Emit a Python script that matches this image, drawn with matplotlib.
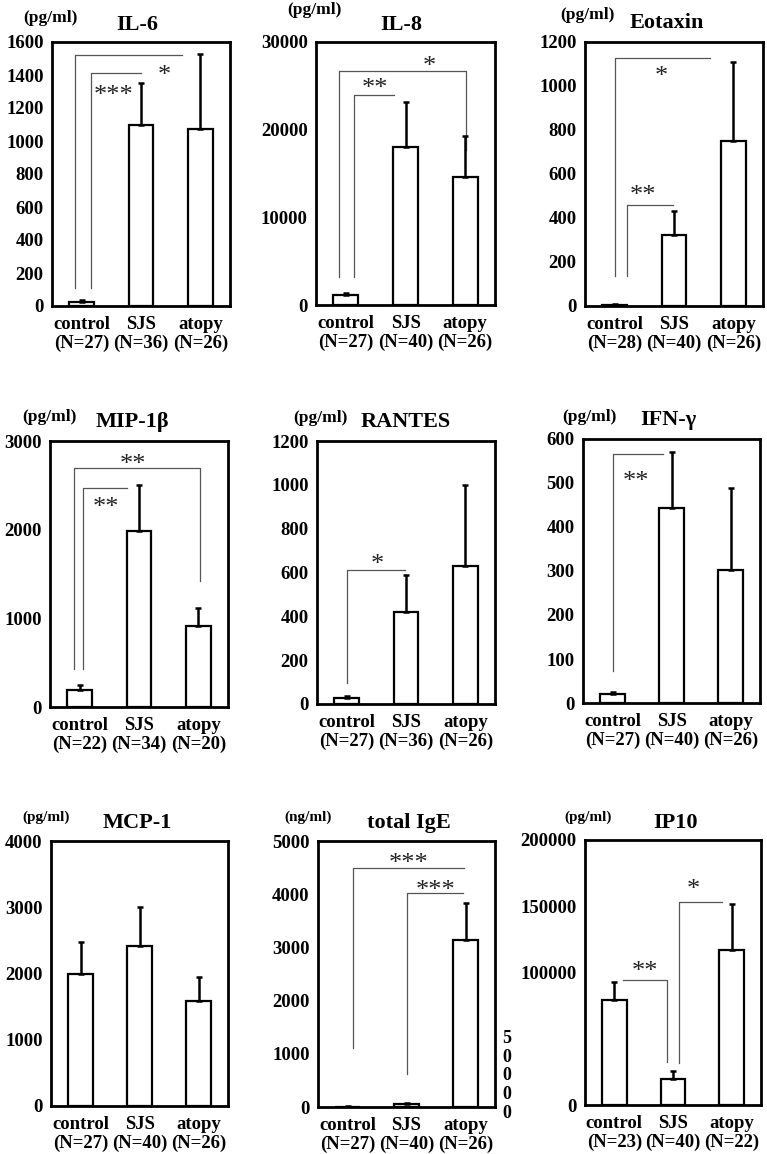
import matplotlib
matplotlib.use("Agg")
import matplotlib.pyplot as plt

# ---- data ----
groups = ["control", "SJS", "atopy"]

il6_mean = [25, 1100, 1075]
il6_sd = [10, 250, 455]
il6_n = [27, 36, 26]

il8_mean = [1100, 18000, 14600]
il8_sd = [250, 5200, 4700]
il8_n = [27, 40, 26]

eotaxin_mean = [5, 323, 750]
eotaxin_sd = [2, 110, 360]
eotaxin_n = [28, 40, 26]

mip1b_mean = [188, 1990, 910]
mip1b_sd = [60, 510, 210]
mip1b_n = [22, 34, 20]

rantes_mean = [28, 420, 630]
rantes_sd = [8, 170, 370]
rantes_n = [27, 36, 26]

ifng_mean = [20, 443, 303]
ifng_sd = [6, 127, 185]
ifng_n = [27, 40, 26]

mcp1_mean = [1990, 2410, 1580]
mcp1_sd = [490, 600, 360]
mcp1_n = [27, 40, 26]

ige_mean = [8, 55, 3130]
ige_sd = [3, 25, 700]
ige_n = [27, 40, 26]

ip10_mean = [79000, 20000, 117000]
ip10_sd = [14000, 6000, 35000]
ip10_n = [23, 40, 22]

# title, unit, means, sds, Ns, y ticks
panels = [
    ("IL-6", "(pg/ml)", il6_mean, il6_sd, il6_n, [0, 200, 400, 600, 800, 1000, 1200, 1400, 1600]),
    ("IL-8", "(pg/ml)", il8_mean, il8_sd, il8_n, [0, 10000, 20000, 30000]),
    ("Eotaxin", "(pg/ml)", eotaxin_mean, eotaxin_sd, eotaxin_n, [0, 200, 400, 600, 800, 1000, 1200]),
    ("MIP-1β", "(pg/ml)", mip1b_mean, mip1b_sd, mip1b_n, [0, 1000, 2000, 3000]),
    ("RANTES", "(pg/ml)", rantes_mean, rantes_sd, rantes_n, [0, 200, 400, 600, 800, 1000, 1200]),
    ("IFN-γ", "(pg/ml)", ifng_mean, ifng_sd, ifng_n, [0, 100, 200, 300, 400, 500, 600]),
    ("MCP-1", "(pg/ml)", mcp1_mean, mcp1_sd, mcp1_n, [0, 1000, 2000, 3000, 4000]),
    ("total IgE", "(ng/ml)", ige_mean, ige_sd, ige_n, [0, 1000, 2000, 3000, 4000, 5000]),
    ("IP10", "(pg/ml)", ip10_mean, ip10_sd, ip10_n, [0, 100000, 150000, 200000]),
]
ymax = [1600, 30000, 1200, 3000, 1200, 600, 4000, 5000, 200000]

# significance brackets: (x_left, y_left_bottom, x_right, y_right_bottom, y_top)
brackets = [
    [(-0.11, 110, 1.69, 1520, 1520), (0.15, 110, 1.0, 1410, 1410)],
    [(-0.11, 3230, 2.01, 17700, 26700), (0.13, 3230, 0.80, 23900, 23900)],
    [(0.0, 136, 1.61, 1127, 1127), (0.20, 136, 0.99, 458, 458)],
    [(-0.10, 432, 2.03, 1417, 2699), (0.06, 432, 0.79, 2474, 2474)],
    [(0.0, 94, 0.98, 611, 611)],
    [(0.0, 72, 0.85, 567, 567)],
    [],
    [(0.10, 1115, 1.97, 4499, 4499), (1.01, 627, 1.95, 4029, 4029)],
    [(0.15, 94340, 0.89, 32700, 94340), (1.10, 31400, 1.83, 153460, 153460)],
]
stars = [
    [(0.54, 1317, "***"), (1.40, 1438, "*")],
    [(0.48, 25400, "**"), (1.40, 28000, "*")],
    [(0.79, 1071, "*"), (0.48, 534, "**")],
    [(0.90, 2808, "**"), (0.45, 2320, "**")],
    [(0.52, 664, "*")],
    [(0.40, 519, "**")],
    [],
    [(1.04, 4700, "***"), (1.49, 4198, "***")],
    [(0.52, 105660, "**"), (1.35, 167800, "*")],
]

# ---- layout (pixels: left, top, right, bottom) ----
W, H = 767, 1154
boxes = [
    (52, 42, 230, 306), (316, 42, 495, 305), (585, 42, 763, 306),
    (50, 441, 228, 707), (317, 441, 495, 704), (583, 439, 760, 703),
    (51, 841, 228, 1106), (318, 841, 495, 1107), (585, 840, 761, 1105),
]
title_off = [(-4, 17), (-4, 17), (-7, 19), (-7, 19), (0, 19), (-3, 19), (-2, 18), (2, 18), (2, 17)]
unit_off = [(-2, 24), (-2, 32), (2, 27), (-1, 24), (3, 23), (6, 22), (-5, 24), (-10, 24), (3, 23)]

plt.rcParams["font.family"] = ["Liberation Serif", "DejaVu Serif"]
plt.rcParams["font.weight"] = "bold"

fig = plt.figure(figsize=(W / 100, H / 100), dpi=100)
fig.patch.set_facecolor("white")

x = [0, 1, 2]
for i, (title, unit, mean, sd, n, ticks) in enumerate(panels):
    l, t, r, b = boxes[i]
    ax = fig.add_axes([l / W, 1 - b / H, (r - l) / W, (b - t) / H])

    ax.bar(x, mean, width=0.42, color="white", edgecolor="black", linewidth=1.6, zorder=3)
    ax.errorbar(x, mean, yerr=[[0, 0, 0], sd], fmt="none", ecolor="black",
                elinewidth=1.8, capsize=2.5, capthick=1.8, zorder=4)

    for xl, yl, xr, yr, yt in brackets[i]:
        ax.plot([xl, xl, xr, xr], [yl, yt, yt, yr], color="#555555", lw=0.9, zorder=2)
    for sx, sy, s in stars[i]:
        ax.annotate(s, (sx, sy), xytext=(0, -7), textcoords="offset pixels",
                    ha="center", va="center", fontsize=19, fontweight="normal", color="#222222")

    ax.set_xlim(-0.5, 2.5)
    ax.set_ylim(0, ymax[i])
    ax.set_yticks(ticks)
    ax.set_yticklabels([str(v) for v in ticks])
    ax.set_xticks(x)
    ax.set_xticklabels([f"{g}\n(N={k})" for g, k in zip(groups, n)], linespacing=1.15)
    ax.tick_params(axis="both", length=0, labelsize=13.5)
    ax.tick_params(axis="y", pad=6)
    ax.tick_params(axis="x", pad=7)
    for sp in ax.spines.values():
        sp.set_linewidth(2)

    ax.annotate(title, (0.5, 1), xycoords="axes fraction", xytext=title_off[i],
                textcoords="offset pixels", ha="center", va="center", fontsize=16, fontweight="bold")
    ax.annotate(unit, (0, 1), xycoords="axes fraction", xytext=unit_off[i],
                textcoords="offset pixels", ha="center", va="center",
                fontsize=12.5 if i < 6 else 11, fontweight="bold")

# stray vertical tick digits to the right of the IgE panel
fig.text(507 / W, 1 - 1076 / H, "5\n0\n0\n0\n0", ha="center", va="center",
         fontsize=13, fontweight="bold", linespacing=1.15)

fig.savefig("out.png", dpi=100)
